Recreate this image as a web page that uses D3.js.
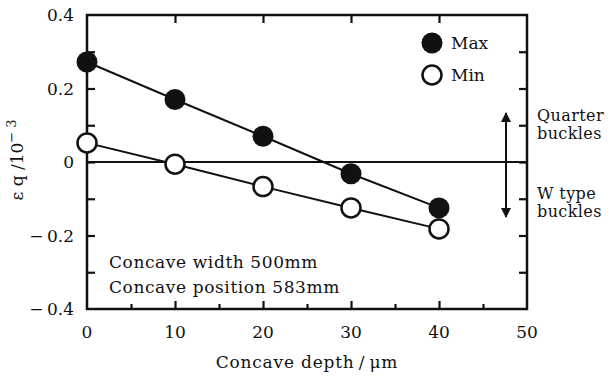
<!DOCTYPE html>
<html>
<head>
<meta charset="utf-8">
<script src="https://cdn.jsdelivr.net/npm/d3@7"></script>
<style>
  body { margin: 0; background: #fff; }
</style>
</head>
<body>
<div id="chart"></div>
<script>
const depths = [0, 10, 20, 30, 40];
const maxValues = [0.272, 0.17, 0.07, -0.032, -0.125];
const minValues = [0.052, -0.006, -0.067, -0.125, -0.182];
const xTicks = [0, 10, 20, 30, 40, 50];
const yTicks = [0.4, 0.2, 0, -0.2, -0.4];
const yMinorTicks = [0.3, 0.1, -0.1, -0.3];
const xMinorTicks = [5, 15, 25, 35, 45];

const WIDTH = 610;
const HEIGHT = 376;
const LEFT = 87, RIGHT = 527, TOP = 15, BOTTOM = 309;
const FONT = "'DejaVu Serif', 'Liberation Serif', serif";
const INK = '#111';

const xScale = d3.scaleLinear().domain([0, 50]).range([LEFT, RIGHT]);
const yScale = d3.scaleLinear().domain([-0.4, 0.4]).range([BOTTOM, TOP]);

const svg = d3.select('#chart')
              .append('svg')
              .attr('width', WIDTH)
              .attr('height', HEIGHT)
              .attr('font-family', FONT)
              .style('font-family', FONT);

const fmtY = d => d === 0 ? '0' : (d < 0 ? '\u2212\u2009' + d3.format('.1f')(-d) : d3.format('.1f')(d));

// axes: every tick points inward, labels are drawn separately
const tickLen = 8;
svg.append('g')
   .attr('transform', `translate(0, ${BOTTOM})`)
   .call(d3.axisTop(xScale).tickValues(xTicks.slice(1, -1)).tickSize(tickLen).tickFormat(''))
   .call(g => g.select('.domain').remove());
svg.append('g')
   .attr('transform', `translate(0, ${BOTTOM})`)
   .call(d3.axisTop(xScale).tickValues(xMinorTicks).tickSize(5).tickFormat(''))
   .call(g => g.select('.domain').remove());
svg.append('g')
   .attr('transform', `translate(0, ${TOP})`)
   .call(d3.axisBottom(xScale).tickValues(xTicks.slice(1, -1)).tickSize(tickLen).tickFormat(''))
   .call(g => g.select('.domain').remove());
svg.append('g')
   .attr('transform', `translate(${LEFT}, 0)`)
   .call(d3.axisRight(yScale).tickValues(yTicks.slice(1, -1).concat(yMinorTicks)).tickSize(tickLen).tickFormat(''))
   .call(g => g.select('.domain').remove());
svg.append('g')
   .attr('transform', `translate(${RIGHT}, 0)`)
   .call(d3.axisLeft(yScale).tickValues(yTicks.slice(1, -1).concat(yMinorTicks)).tickSize(tickLen).tickFormat(''))
   .call(g => g.select('.domain').remove());
svg.selectAll('.tick line').attr('stroke', INK).attr('stroke-width', 2.2);

// frame
svg.append('rect')
   .attr('x', LEFT).attr('y', TOP)
   .attr('width', RIGHT - LEFT).attr('height', BOTTOM - TOP)
   .attr('fill', 'none').attr('stroke', INK).attr('stroke-width', 2.5);

// zero line
svg.append('line')
   .attr('x1', LEFT).attr('x2', RIGHT)
   .attr('y1', yScale(0)).attr('y2', yScale(0))
   .attr('stroke', INK).attr('stroke-width', 2);

// tick labels
svg.selectAll('.xlab')
   .data(xTicks).enter().append('text')
   .attr('x', d => xScale(d)).attr('y', BOTTOM + 29)
   .attr('text-anchor', 'middle').attr('font-size', 17)
   .attr('fill', INK)
   .text(d => d);
svg.selectAll('.ylab')
   .data(yTicks).enter().append('text')
   .attr('x', LEFT - 13).attr('y', d => yScale(d) + 6)
   .attr('text-anchor', 'end').attr('font-size', 17)
   .attr('fill', INK)
   .text(fmtY);

// axis titles
svg.append('text')
   .attr('x', 307).attr('y', 368)
   .attr('text-anchor', 'middle').attr('font-size', 17)
   .attr('letter-spacing', 0.8)
   .attr('fill', INK)
   .text('Concave depth\u2009/\u2009\u03bcm');
const yt = svg.append('text')
   .attr('transform', `translate(23, 160) rotate(-90)`)
   .attr('text-anchor', 'middle').attr('font-size', 17)
   .attr('fill', INK);
yt.append('tspan').text('\u03b5 q /10');
yt.append('tspan').attr('dy', -7).attr('font-size', 13).text('\u2212 3');

// series
const line = d3.line().x((d, i) => xScale(depths[i])).y(d => yScale(d));
[maxValues, minValues].forEach(vals => {
  svg.append('path')
     .attr('d', line(vals))
     .attr('fill', 'none').attr('stroke', INK).attr('stroke-width', 2);
});
svg.selectAll('.maxpt')
   .data(maxValues).enter().append('circle')
   .attr('cx', (d, i) => xScale(depths[i])).attr('cy', d => yScale(d))
   .attr('r', 10.5).attr('fill', INK);
svg.selectAll('.minpt')
   .data(minValues).enter().append('circle')
   .attr('cx', (d, i) => xScale(depths[i])).attr('cy', d => yScale(d))
   .attr('r', 9.5).attr('fill', '#fff').attr('stroke', INK).attr('stroke-width', 2.5);

// legend
svg.append('circle').attr('cx', 432).attr('cy', 43).attr('r', 10.5).attr('fill', INK);
svg.append('text').attr('x', 451).attr('y', 49).attr('font-size', 17).attr('fill', INK).text('Max');
svg.append('circle').attr('cx', 432).attr('cy', 75).attr('r', 9.5)
   .attr('fill', '#fff').attr('stroke', INK).attr('stroke-width', 2.5);
svg.append('text').attr('x', 451).attr('y', 81).attr('font-size', 17).attr('fill', INK).text('Min');

// buckle arrow
const defs = svg.append('defs');
defs.append('marker')
    .attr('id', 'head').attr('viewBox', '0 0 10 10')
    .attr('refX', 9).attr('refY', 5)
    .attr('markerWidth', 5).attr('markerHeight', 5)
    .attr('orient', 'auto-start-reverse')
    .append('path').attr('d', 'M0,0 L10,5 L0,10 Z').attr('fill', INK);
svg.append('line')
   .attr('x1', 506).attr('x2', 506).attr('y1', 113).attr('y2', 217)
   .attr('stroke', INK).attr('stroke-width', 2)
   .attr('marker-start', 'url(#head)').attr('marker-end', 'url(#head)');
const notes = [['Quarter', 121], ['buckles', 139], ['W type', 199], ['buckles', 217]];
svg.selectAll('.note')
   .data(notes).enter().append('text')
   .attr('x', 537).attr('y', d => d[1]).attr('font-size', 16)
   .attr('letter-spacing', 0.4)
   .attr('fill', INK)
   .text(d => d[0]);

// condition text
svg.append('text').attr('x', 109).attr('y', 268).attr('font-size', 17)
   .attr('letter-spacing', 0.6).attr('fill', INK).text('Concave width 500mm');
svg.append('text').attr('x', 109).attr('y', 293).attr('font-size', 17)
   .attr('letter-spacing', 0.6).attr('fill', INK).text('Concave position 583mm');
</script>
</body>
</html>
